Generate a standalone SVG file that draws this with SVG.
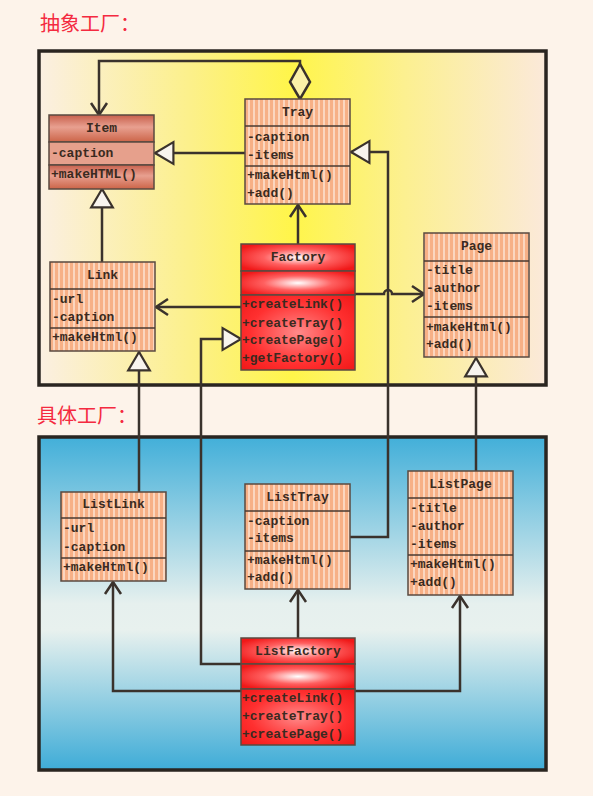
<svg xmlns="http://www.w3.org/2000/svg" width="593" height="796" viewBox="0 0 593 796">
<defs>
<style>
.t{font-family:"Liberation Mono","DejaVu Sans Mono",monospace;font-size:13px;font-weight:bold;fill:#3a2a20}
.c{text-anchor:middle}
.h{font-family:"Noto Sans CJK SC","Noto Sans CJK JP",sans-serif;font-size:20px;fill:#f42a40}
.box{stroke:#5a4a40;stroke-width:1.5}
.ln{stroke:#4a3a30;stroke-width:1.5}
.con{fill:none;stroke:#3a322c;stroke-width:2.5}
.frame{stroke:#2a2520;stroke-width:3.5}
</style>
<pattern id="stripe" width="5" height="10" patternUnits="userSpaceOnUse">
<rect width="5" height="10" fill="#f7b086"/>
<rect x="3.3" width="1.4" height="10" fill="#fde6d8"/>
</pattern>
<linearGradient id="yel" x1="0" y1="0" x2="1" y2="0">
<stop offset="0" stop-color="#fbefe2"/>
<stop offset="0.3" stop-color="#fcf08a"/>
<stop offset="0.5" stop-color="#fff54a"/>
<stop offset="0.72" stop-color="#fcf090"/>
<stop offset="1" stop-color="#fbe9da"/>
</linearGradient>
<linearGradient id="blu" x1="0" y1="0" x2="0" y2="1">
<stop offset="0" stop-color="#42afd9"/>
<stop offset="0.5" stop-color="#e6f0ee"/>
<stop offset="0.58" stop-color="#e8f1ee"/>
<stop offset="1" stop-color="#3eacd7"/>
</linearGradient>
<radialGradient id="red" cx="0.5" cy="0.5" r="0.6">
<stop offset="0" stop-color="#ffffff"/>
<stop offset="0.5" stop-color="#ff6060"/>
<stop offset="1" stop-color="#f01818"/>
</radialGradient>
<radialGradient id="red2" cx="0.5" cy="0.5" r="0.7">
<stop offset="0" stop-color="#ff8a8a"/>
<stop offset="0.6" stop-color="#ff3030"/>
<stop offset="1" stop-color="#f01818"/>
</radialGradient>
<linearGradient id="itemg" x1="0" y1="0" x2="0" y2="1">
<stop offset="0" stop-color="#c8604c"/>
<stop offset="0.45" stop-color="#e8a090"/>
<stop offset="1" stop-color="#cc6448"/>
</linearGradient>
<marker id="arr" markerUnits="userSpaceOnUse" markerWidth="20" markerHeight="20" viewBox="-14 -10 16 20" refX="0" refY="0" orient="auto">
<path d="M-12,-8 L0,0 L-12,8" fill="none" stroke="#3a322c" stroke-width="2.5"/>
</marker>
<marker id="tri" markerUnits="userSpaceOnUse" markerWidth="24" markerHeight="26" viewBox="-19 -12 21 24" refX="0" refY="0" orient="auto">
<path d="M0,0 L-17,-10 L-17,10 Z" fill="#f8f4ee" stroke="#3a322c" stroke-width="2"/>
</marker>
<marker id="dia" markerUnits="userSpaceOnUse" markerWidth="40" markerHeight="26" viewBox="-2 -12 40 24" refX="0" refY="0" orient="auto">
<path d="M0,0 L17,-10 L35,0 L17,10 Z" fill="#fbf1a8" stroke="#3a322c" stroke-width="2.5"/>
</marker>
</defs>
<rect width="593" height="796" fill="#fdf3ea"/>
<text class="h" x="40" y="31">抽象工厂：</text>
<text class="h" x="37" y="423">具体工厂：</text>
<rect class="frame" x="39" y="51" width="507" height="334" fill="url(#yel)"/>
<rect class="frame" x="39" y="437" width="507" height="333" fill="url(#blu)"/>

<g id="connectors">
<path class="con" d="M300,99 L300,61 L99,61 L99,115" marker-start="url(#dia)" marker-end="url(#arr)"/>
<path class="con" d="M245,153 L155,153" marker-end="url(#tri)"/>
<path class="con" d="M102,262 L102,189" marker-end="url(#tri)"/>
<path class="con" d="M298,244 L298,205" marker-end="url(#arr)"/>
<path class="con" d="M241,307 L156,307" marker-end="url(#arr)"/>
<path class="con" d="M355,294 L384,294 A4,4 0 0 1 392,294 L424,294" marker-end="url(#arr)"/>
<path class="con" d="M350,537 L388,537 L388,152 L351,152" marker-end="url(#tri)"/>
<path class="con" d="M139,492 L139,352" marker-end="url(#tri)"/>
<path class="con" d="M476,471 L476,358" marker-end="url(#tri)"/>
<path class="con" d="M241,664 L201,664 L201,339 L241,339" marker-end="url(#tri)"/>
<path class="con" d="M241,691 L113,691 L113,582" marker-end="url(#arr)"/>
<path class="con" d="M355,691 L460,691 L460,596" marker-end="url(#arr)"/>
<path class="con" d="M298,638 L298,590" marker-end="url(#arr)"/>
</g>

<g id="Item">
<rect class="box" x="49" y="115" width="105" height="27" fill="url(#itemg)"/>
<rect class="box" x="49" y="142" width="105" height="23" fill="#e6a08c"/>
<rect class="box" x="49" y="165" width="105" height="24" fill="url(#itemg)"/>
<text class="t c" x="101.5" y="132">Item</text>
<text class="t" x="51" y="157">-caption</text>
<text class="t" x="51" y="178">+makeHTML()</text>
</g>

<g id="Tray">
<rect class="box" x="245" y="99" width="105" height="105" fill="url(#stripe)"/>
<line class="ln" x1="245" y1="126" x2="350" y2="126"/>
<line class="ln" x1="245" y1="166" x2="350" y2="166"/>
<text class="t c" x="297.5" y="116">Tray</text>
<text class="t" x="247" y="141">-caption</text>
<text class="t" x="247" y="159">-items</text>
<text class="t" x="247" y="179">+makeHtml()</text>
<text class="t" x="247" y="197">+add()</text>
</g>

<g id="Link">
<rect class="box" x="50" y="262" width="105" height="89" fill="url(#stripe)"/>
<line class="ln" x1="50" y1="289" x2="155" y2="289"/>
<line class="ln" x1="50" y1="328" x2="155" y2="328"/>
<text class="t c" x="102.5" y="279">Link</text>
<text class="t" x="52" y="303">-url</text>
<text class="t" x="52" y="321">-caption</text>
<text class="t" x="52" y="341">+makeHtml()</text>
</g>

<g id="Factory">
<rect class="box" x="241" y="244" width="114" height="27" fill="url(#red)"/>
<rect class="box" x="241" y="271" width="114" height="24" fill="url(#red)"/>
<rect class="box" x="241" y="295" width="114" height="75" fill="url(#red2)"/>
<text class="t c" x="298" y="261">Factory</text>
<text class="t" x="242" y="308">+createLink()</text>
<text class="t" x="242" y="327">+createTray()</text>
<text class="t" x="242" y="344">+createPage()</text>
<text class="t" x="242" y="362">+getFactory()</text>
</g>

<g id="Page">
<rect class="box" x="424" y="233" width="105" height="124" fill="url(#stripe)"/>
<line class="ln" x1="424" y1="261" x2="529" y2="261"/>
<line class="ln" x1="424" y1="317" x2="529" y2="317"/>
<text class="t c" x="476.5" y="250">Page</text>
<text class="t" x="426" y="274">-title</text>
<text class="t" x="426" y="292">-author</text>
<text class="t" x="426" y="310">-items</text>
<text class="t" x="426" y="331">+makeHtml()</text>
<text class="t" x="426" y="348">+add()</text>
</g>

<g id="ListLink">
<rect class="box" x="61" y="492" width="105" height="89" fill="url(#stripe)"/>
<line class="ln" x1="61" y1="518" x2="166" y2="518"/>
<line class="ln" x1="61" y1="558" x2="166" y2="558"/>
<text class="t c" x="113.5" y="508">ListLink</text>
<text class="t" x="63" y="532">-url</text>
<text class="t" x="63" y="551">-caption</text>
<text class="t" x="63" y="571">+makeHtml()</text>
</g>

<g id="ListTray">
<rect class="box" x="245" y="484" width="105" height="105" fill="url(#stripe)"/>
<line class="ln" x1="245" y1="511" x2="350" y2="511"/>
<line class="ln" x1="245" y1="551" x2="350" y2="551"/>
<text class="t c" x="297.5" y="501">ListTray</text>
<text class="t" x="247" y="525">-caption</text>
<text class="t" x="247" y="542">-items</text>
<text class="t" x="247" y="564">+makeHtml()</text>
<text class="t" x="247" y="581">+add()</text>
</g>

<g id="ListPage">
<rect class="box" x="408" y="471" width="105" height="124" fill="url(#stripe)"/>
<line class="ln" x1="408" y1="498" x2="513" y2="498"/>
<line class="ln" x1="408" y1="555" x2="513" y2="555"/>
<text class="t c" x="460.5" y="488">ListPage</text>
<text class="t" x="410" y="512">-title</text>
<text class="t" x="410" y="530">-author</text>
<text class="t" x="410" y="548">-items</text>
<text class="t" x="410" y="568">+makeHtml()</text>
<text class="t" x="410" y="586">+add()</text>
</g>

<g id="ListFactory">
<rect class="box" x="241" y="638" width="114" height="26" fill="url(#red)"/>
<rect class="box" x="241" y="664" width="114" height="25" fill="url(#red)"/>
<rect class="box" x="241" y="689" width="114" height="56" fill="url(#red2)"/>
<text class="t c" x="298" y="655">ListFactory</text>
<text class="t" x="242" y="702">+createLink()</text>
<text class="t" x="242" y="720">+createTray()</text>
<text class="t" x="242" y="738">+createPage()</text>
</g>
</svg>
